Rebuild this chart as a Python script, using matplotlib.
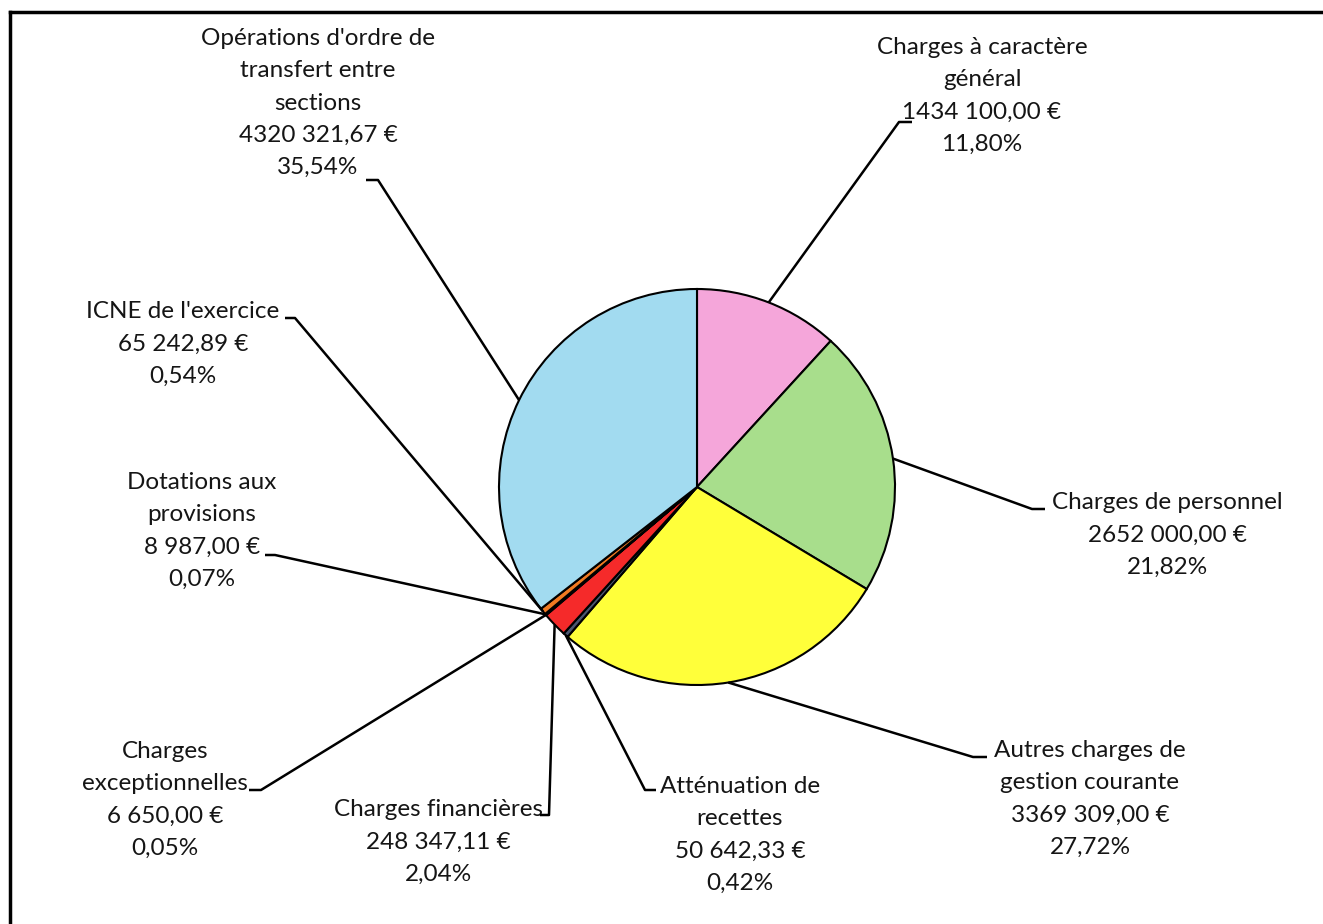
import matplotlib.pyplot as plt
import numpy as np

# valeurs du graphique (euros, dans le sens horaire depuis le haut)
labels = ["Charges à caractère\ngénéral",
          "Charges de personnel",
          "Autres charges de\ngestion courante",
          "Atténuation de\nrecettes",
          "Charges financières",
          "Charges\nexceptionnelles",
          "Dotations aux\nprovisions",
          "ICNE de l'exercice",
          "Opérations d'ordre de\ntransfert entre\nsections"]
montants = ["1434 100,00 €", "2652 000,00 €", "3369 309,00 €", "50 642,33 €",
            "248 347,11 €", "6 650,00 €", "8 987,00 €", "65 242,89 €",
            "4320 321,67 €"]
valeurs = [1434100.00, 2652000.00, 3369309.00, 50642.33, 248347.11,
           6650.00, 8987.00, 65242.89, 4320321.67]
pourcents = ["11,80%", "21,82%", "27,72%", "0,42%", "2,04%", "0,05%",
             "0,07%", "0,54%", "35,54%"]
couleurs = ["#F5A6DA", "#A8DE8C", "#FFFF3A", "#4B5670", "#F52A2A",
            "#C0504D", "#9BBB59", "#F07A22", "#A2DBF0"]

W, H = 1323, 924
cx, cy, R = 697, 487, 198

# position du texte (centre du bloc) et du coude de la ligne de rappel, en pixels
txt_pos = [(982, 96), (1167, 535), (1090, 799), (740, 835), (438, 842),
           (165, 800), (202, 531), (183, 344), (318, 103)]
coudes = [((912, 122), (899, 122)), ((1045, 509), (1032, 509)),
          ((987, 757), (973, 757)), ((656, 790), (645, 790)),
          ((540, 815), (549, 815)), ((249, 790), (261, 790)),
          ((265, 555), (275, 555)), ((285, 318), (295, 318)),
          ((366, 180), (378, 180))]

plt.rcParams['font.family'] = ['Lato', 'DejaVu Sans']

fig = plt.figure(figsize=(W / 100, H / 100), dpi=100)
ax = fig.add_axes([0, 0, 1, 1])

wedges, _ = ax.pie(valeurs, colors=couleurs, startangle=90, counterclock=False,
                   center=(cx, H - cy), radius=R, frame=True,
                   wedgeprops=dict(edgecolor='black', linewidth=1.5))
ax.set_xlim(0, W)
ax.set_ylim(0, H)
ax.set_aspect('equal')
ax.axis('off')

for i, w in enumerate(wedges):
    ang = np.deg2rad((w.theta1 + w.theta2) / 2)
    px = cx + R * np.cos(ang)
    py = (H - cy) + R * np.sin(ang)
    (x0, y0), (x1, y1) = coudes[i]
    ax.plot([x0, x1, px], [H - y0, H - y1, py], color='black', lw=1.8,
            solid_capstyle='butt', zorder=5)
    tx, ty = txt_pos[i]
    ax.text(tx, H - ty, labels[i] + "\n" + montants[i] + "\n" + pourcents[i],
            ha='center', va='center', fontsize=17.5, color='#151515',
            linespacing=1.66)

# cadre (haut et gauche)
ax.plot([10, W], [H - 12, H - 12], color='black', lw=2.5)
ax.plot([10, 10], [H - 12, 0], color='black', lw=2.5)

fig.savefig("out.png", dpi=100)
